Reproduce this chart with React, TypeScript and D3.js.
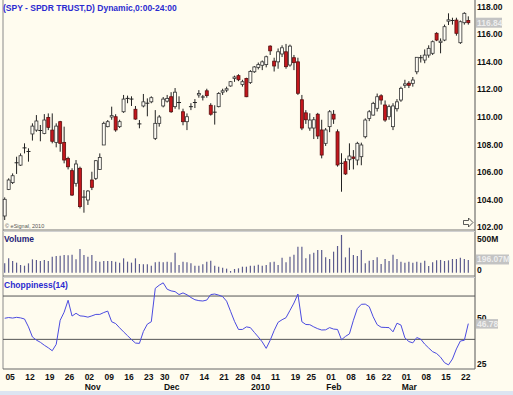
import * as d3 from 'd3';

const W = 513;
const H = 395;

// trading days, Oct 5 2009 .. Mar 24 2010
const tradingDays = [
  '2009-10-05', '2009-10-06', '2009-10-07', '2009-10-08', '2009-10-09',
  '2009-10-12', '2009-10-13', '2009-10-14', '2009-10-15', '2009-10-16',
  '2009-10-19', '2009-10-20', '2009-10-21', '2009-10-22', '2009-10-23',
  '2009-10-26', '2009-10-27', '2009-10-28', '2009-10-29', '2009-10-30',
  '2009-11-02', '2009-11-03', '2009-11-04', '2009-11-05', '2009-11-06',
  '2009-11-09', '2009-11-10', '2009-11-11', '2009-11-12', '2009-11-13',
  '2009-11-16', '2009-11-17', '2009-11-18', '2009-11-19', '2009-11-20',
  '2009-11-23', '2009-11-24', '2009-11-25', '2009-11-27',
  '2009-11-30', '2009-12-01', '2009-12-02', '2009-12-03', '2009-12-04',
  '2009-12-07', '2009-12-08', '2009-12-09', '2009-12-10', '2009-12-11',
  '2009-12-14', '2009-12-15', '2009-12-16', '2009-12-17', '2009-12-18',
  '2009-12-21', '2009-12-22', '2009-12-23', '2009-12-24',
  '2009-12-28', '2009-12-29', '2009-12-30', '2009-12-31',
  '2010-01-04', '2010-01-05', '2010-01-06', '2010-01-07', '2010-01-08',
  '2010-01-11', '2010-01-12', '2010-01-13', '2010-01-14', '2010-01-15',
  '2010-01-19', '2010-01-20', '2010-01-21', '2010-01-22',
  '2010-01-25', '2010-01-26', '2010-01-27', '2010-01-28', '2010-01-29',
  '2010-02-01', '2010-02-02', '2010-02-03', '2010-02-04', '2010-02-05',
  '2010-02-08', '2010-02-09', '2010-02-10', '2010-02-11', '2010-02-12',
  '2010-02-16', '2010-02-17', '2010-02-18', '2010-02-19',
  '2010-02-22', '2010-02-23', '2010-02-24', '2010-02-25', '2010-02-26',
  '2010-03-01', '2010-03-02', '2010-03-03', '2010-03-04', '2010-03-05',
  '2010-03-08', '2010-03-09', '2010-03-10', '2010-03-11', '2010-03-12',
  '2010-03-15', '2010-03-16', '2010-03-17', '2010-03-18', '2010-03-19',
  '2010-03-22', '2010-03-23', '2010-03-24',
];

const open = [
  102.82, 104.75, 105.24, 106.6, 106.51, 107.7, 107.45, 108.77, 109.05, 108.97,
  108.81, 109.97, 109.05, 108.16, 109.66, 108.16, 107.0, 106.11, 105.19, 106.28,
  104.15, 103.98, 105.43, 105.55, 106.2, 107.97, 109.3, 110.0, 110.02, 109.3,
  110.38, 111.3, 111.3, 110.56, 109.5, 110.8, 111.0, 111.1, 108.45, 109.54,
  110.8, 111.15, 111.47, 110.75, 111.05, 110.38, 109.66, 110.7, 111.0, 111.6,
  111.45, 111.9, 110.85, 110.3, 110.75, 111.8, 111.95, 112.25, 112.8, 113.0,
  112.35, 112.8, 112.5, 113.28, 113.6, 113.75, 113.8, 115.14, 114.05, 114.0,
  114.57, 114.73, 113.77, 114.3, 114.0, 111.25, 110.3, 109.2, 109.2, 110.2,
  109.06, 108.09, 109.3, 110.2, 108.93, 106.6, 106.76, 106.9, 107.1, 106.88,
  107.12, 108.57, 109.9, 110.14, 110.63, 111.54, 110.87, 110.02, 109.3, 110.6,
  111.23, 112.3, 112.45, 112.44, 113.28, 114.25, 114.13, 114.49, 114.62, 116.07,
  115.4, 115.58, 116.95, 116.95, 117.03, 115.39, 116.84, 117.0,
];
const high = [
  104.17, 105.55, 105.91, 107.12, 107.36, 108.09, 107.73, 109.54, 110.14, 109.42,
  110.21, 110.26, 110.26, 109.54, 109.72, 109.3, 107.12, 106.28, 106.88, 106.4,
  104.7, 104.7, 106.03, 106.88, 107.36, 109.66, 109.78, 110.75, 110.2, 109.8,
  111.6, 111.55, 111.5, 110.8, 109.78, 111.67, 111.35, 111.5, 110.5, 110.14,
  111.45, 111.6, 111.8, 112.1, 111.5, 110.6, 110.26, 111.0, 111.3, 111.95,
  111.6, 112.05, 111.0, 110.85, 111.8, 112.05, 112.2, 112.6, 113.0, 113.1,
  112.7, 112.85, 113.4, 113.7, 113.95, 114.1, 114.45, 115.2, 114.3, 114.97,
  115.2, 115.3, 115.25, 114.5, 114.3, 111.6, 110.5, 110.27, 110.0, 110.3,
  109.8, 109.2, 110.5, 110.5, 109.1, 107.37, 107.0, 108.09, 107.6, 108.2,
  108.14, 109.9, 110.5, 111.1, 111.7, 111.65, 111.2, 110.9, 111.0, 111.3,
  112.2, 112.7, 112.6, 112.9, 114.33, 114.5, 114.9, 115.2, 115.55, 116.15,
  115.7, 116.7, 117.52, 117.2, 117.2, 117.0, 117.6, 117.3,
];
const low = [
  102.53, 104.7, 105.14, 105.87, 106.45, 107.36, 106.76, 108.29, 108.93, 108.24,
  108.75, 109.05, 108.09, 107.8, 107.48, 106.64, 106.2, 104.27, 104.95, 103.37,
  103.06, 103.62, 104.7, 105.43, 106.16, 107.97, 109.25, 109.8, 108.93, 109.2,
  110.3, 111.0, 110.8, 109.8, 109.18, 110.7, 110.05, 111.0, 108.33, 109.3,
  110.7, 111.05, 110.3, 110.6, 110.55, 109.4, 109.05, 110.5, 110.65, 111.4,
  111.2, 111.4, 110.1, 109.45, 110.7, 111.6, 111.8, 112.2, 112.55, 112.6,
  112.2, 111.44, 112.4, 113.2, 113.45, 113.4, 113.6, 114.5, 113.3, 113.5,
  114.35, 113.5, 113.65, 113.4, 111.6, 109.05, 109.5, 109.0, 108.4, 108.4,
  107.0, 107.9, 108.9, 109.5, 106.4, 104.58, 105.8, 106.16, 106.2, 106.5,
  106.5, 108.45, 109.7, 110.1, 110.4, 110.9, 109.65, 109.8, 109.05, 110.4,
  111.1, 112.1, 112.1, 112.2, 113.1, 113.95, 113.9, 114.3, 114.5, 115.5,
  114.62, 115.5, 116.67, 116.7, 115.9, 115.3, 116.7, 116.7,
];
const close = [
  104.03, 105.43, 105.74, 106.68, 107.19, 107.76, 107.5, 109.34, 109.71, 109.02,
  109.78, 109.25, 108.24, 109.34, 108.09, 106.88, 106.39, 104.34, 106.59, 103.5,
  104.19, 104.63, 104.9, 106.83, 107.07, 109.54, 109.66, 110.1, 109.06, 109.66,
  111.3, 111.35, 111.25, 109.85, 109.45, 111.1, 110.98, 111.4, 109.54, 110.0,
  111.3, 111.35, 110.38, 111.8, 111.0, 109.66, 110.02, 110.75, 111.05, 111.7,
  111.4, 111.55, 110.2, 110.35, 111.71, 111.9, 112.05, 112.56, 112.9, 112.7,
  112.56, 111.47, 113.3, 113.63, 113.8, 114.0, 114.37, 114.8, 113.7, 114.73,
  115.02, 113.65, 115.14, 113.94, 111.72, 109.2, 109.8, 109.78, 109.8, 108.62,
  107.24, 109.06, 110.38, 109.85, 106.52, 106.64, 105.87, 107.17, 107.0, 108.09,
  107.97, 109.78, 110.38, 110.99, 111.47, 111.23, 109.78, 110.75, 110.8, 111.1,
  112.08, 112.4, 112.3, 112.68, 114.33, 114.3, 114.49, 114.98, 115.46, 115.58,
  115.5, 116.55, 117.05, 117.0, 116.07, 116.91, 117.52, 116.84,
];

// volume in millions of shares
const volume = [
  139, 213, 174, 149, 114, 104, 139, 198, 188, 174,
  188, 174, 238, 248, 253, 263, 258, 268, 198, 352,
  263, 238, 263, 174, 164, 174, 174, 174, 164, 149,
  213, 164, 149, 213, 129, 124, 124, 104, 154, 164,
  154, 164, 154, 297, 114, 164, 154, 139, 104, 104,
  124, 164, 179, 104, 89, 75, 60, 25, 55, 65,
  89, 89, 104, 104, 119, 104, 114, 154, 164, 114,
  223, 154, 238, 268, 386, 386, 213, 273, 297, 337,
  337, 228, 203, 312, 396, 560, 228, 371, 263, 248,
  337, 139, 179, 188, 228, 129, 203, 174, 268, 203,
  164, 149, 164, 149, 164, 149, 179, 99, 154, 183,
  189, 174, 183, 203, 203, 223, 203, 189,
];

// Choppiness(14)
const chop = [
  49.7, 50.1, 49.8, 50.2, 49.9, 49.3, 45.0, 39.5, 37.8, 36.6,
  35.0, 33.6, 32.0, 35.5, 48.6, 53.0, 59.5, 50.9, 52.4, 51.0,
  50.8, 50.3, 51.0, 51.8, 51.8, 52.8, 53.6, 47.8, 46.8, 44.5,
  42.3, 40.2, 38.1, 36.2, 36.0, 42.5, 46.5, 47.8, 66.0, 67.7,
  69.0, 65.5, 64.6, 64.2, 62.6, 63.5, 62.5, 61.0, 59.8, 59.3,
  59.1, 59.6, 62.6, 62.9, 62.3, 61.5, 59.0, 53.5, 48.0, 43.6,
  43.6, 45.0, 44.6, 42.0, 39.5, 36.8, 33.3, 37.7, 43.0, 47.5,
  48.9, 50.0, 54.0, 58.0, 62.9, 47.8, 46.3, 46.2, 45.0, 44.0,
  43.3, 43.4, 44.6, 43.8, 43.6, 38.0, 39.8, 41.2, 48.6, 55.0,
  57.3, 57.4, 56.0, 50.5, 46.2, 44.8, 44.7, 44.6, 42.3, 47.0,
  46.0, 39.0, 37.0, 36.3, 39.2, 38.3, 35.6, 33.5, 31.5, 30.5,
  28.5, 25.5, 24.3, 27.5, 33.0, 37.3, 37.7, 46.78,
];

const priceTicks = [102, 104, 106, 108, 110, 112, 114, 116, 118];
const chopLevels = [38.2, 61.8];
const chopTicks = [25, 50];
const volTicks = [0, 500];
const lastPrice = 116.84;
const lastVolume = 196.07;

const FONT = "'Liberation Sans', Arial, sans-serif";
const BG = '#fffcef';
const LEFT = 3;
const RIGHT = 475;

export default function App() {
  const parse = d3.timeParse('%Y-%m-%d');
  const days = tradingDays.map((d) => parse(d) as Date);

  const x = d3.scaleLinear().domain([0, days.length - 1]).range([4.7, 468.3]);
  const yPrice = d3.scaleLinear().domain([102, 118]).range([227.3, 6.7]);
  const yVol = d3.scaleLinear().domain([0, 500]).range([272.7, 239]);
  const yChop = d3.scaleLinear().domain([25, 50]).range([363.6, 317.7]);

  const weekIdx = days
    .map((d, i) => i)
    .filter((i) => i === 0 || +d3.timeMonday.floor(days[i]) !== +d3.timeMonday.floor(days[i - 1]));
  const monthIdx = days
    .map((d, i) => i)
    .filter((i) => i > 0 && days[i].getMonth() !== days[i - 1].getMonth());

  const chopLine = d3
    .line<number>()
    .x((d, i) => x(i))
    .y((d) => yChop(d));

  const fmt2 = d3.format('.2f');

  return (
    <svg
      width={W}
      height={H}
      style={{ position: 'absolute', left: 0, top: 0, background: BG }}
      fontFamily={FONT}
    >
      <rect x={0} y={0} width={W} height={H} fill={BG} />
      <rect x={0} y={391} width={W} height={4} fill="#dce5f2" />

      {/* panel frames */}
      <line x1={LEFT} x2={LEFT} y1={0} y2={369} stroke="#8a8a8a" />
      <line x1={RIGHT} x2={RIGHT} y1={0} y2={369} stroke="#555" />
      <line x1={LEFT} x2={RIGHT} y1={230} y2={230} stroke="#777" />
      <line x1={LEFT} x2={RIGHT} y1={231.5} y2={231.5} stroke="#d0d0d0" />
      <line x1={LEFT} x2={RIGHT} y1={276} y2={276} stroke="#777" />
      <line x1={LEFT} x2={RIGHT} y1={277.5} y2={277.5} stroke="#d0d0d0" />
      <line x1={LEFT} x2={RIGHT} y1={369} y2={369} stroke="#666" />

      {/* price panel */}
      <text x={3} y={8} fontSize={8.5} fontWeight="bold" fill="#2b2bd0" dominantBaseline="central">
        (SPY - SPDR TRUST,D) Dynamic,0:00-24:00
      </text>
      <text x={5} y={226} fontSize={5.5} fill="#555" dominantBaseline="central">
        © eSignal, 2010
      </text>
      {days.map((d, i) => {
        const o = open[i];
        const c = close[i];
        const top = yPrice(Math.max(o, c));
        const bot = yPrice(Math.min(o, c));
        const down = c < o;
        const cx = x(i);
        return (
          <g key={i}>
            <line x1={cx} x2={cx} y1={yPrice(high[i])} y2={yPrice(low[i])} stroke="#222" strokeWidth={1} />
            {bot - top < 1.2 ? (
              <line x1={cx - 2} x2={cx + 2} y1={top} y2={top} stroke="#222" strokeWidth={1} />
            ) : (
              <rect
                x={cx - 1.5}
                y={top}
                width={3}
                height={bot - top}
                fill={down ? '#c4161c' : '#fffdf5'}
                stroke={down ? '#5a1010' : '#333'}
                strokeWidth={0.8}
              />
            )}
          </g>
        );
      })}
      {priceTicks.map((t) => (
        <text key={t} x={477} y={yPrice(t)} fontSize={8.5} fontWeight="bold" fill="#111" dominantBaseline="central">
          {fmt2(t)}
        </text>
      ))}
      <rect x={476} y={yPrice(lastPrice) - 5} width={26} height={10} fill="#c3c3c3" />
      <text x={477} y={yPrice(lastPrice)} fontSize={8.5} fontWeight="bold" fill="#ededed" dominantBaseline="central">
        {fmt2(lastPrice)}
      </text>
      <path d="M463.5,220.5 h5 v-2.5 l4.5,4.5 l-4.5,4.5 v-2.5 h-5 z" fill="none" stroke="#333" strokeWidth={0.8} />

      {/* volume panel */}
      <text x={4} y={239} fontSize={8.5} fontWeight="bold" fill="#1e1e78" dominantBaseline="central">
        Volume
      </text>
      {volume.map((v, i) => (
        <line key={i} x1={x(i)} x2={x(i)} y1={yVol(0)} y2={yVol(v)} stroke="#5c5c8e" strokeWidth={1.2} />
      ))}
      <text x={477} y={yVol(volTicks[1])} fontSize={8.5} fontWeight="bold" fill="#111" dominantBaseline="central">
        500M
      </text>
      <text x={477} y={yVol(volTicks[0]) - 2.5} fontSize={8.5} fontWeight="bold" fill="#111" dominantBaseline="central">
        0
      </text>
      <rect x={476} y={yVol(lastVolume) - 5} width={33} height={10} fill="#c3c3c3" />
      <text x={477} y={yVol(lastVolume)} fontSize={8.5} fontWeight="bold" fill="#ededed" dominantBaseline="central">
        {fmt2(lastVolume)}M
      </text>

      {/* choppiness panel */}
      <text x={4} y={285} fontSize={8.5} fontWeight="bold" fill="#2b2bd0" dominantBaseline="central">
        Choppiness(14)
      </text>
      {chopLevels.map((l) => (
        <line key={l} x1={LEFT} x2={RIGHT} y1={yChop(l)} y2={yChop(l)} stroke="#555" strokeWidth={1} />
      ))}
      <path d={chopLine(chop) || ''} fill="none" stroke="#4b4be0" strokeWidth={1} />
      {chopTicks.map((t) => (
        <text key={t} x={477} y={yChop(t)} fontSize={8.5} fontWeight="bold" fill="#111" dominantBaseline="central">
          {t}
        </text>
      ))}
      <rect x={476} y={yChop(chop[chop.length - 1]) - 4.5} width={22} height={9.5} fill="#c3c3c3" />
      <text
        x={477}
        y={yChop(chop[chop.length - 1])}
        fontSize={8.5}
        fontWeight="bold"
        fill="#ededed"
        dominantBaseline="central"
      >
        {chop[chop.length - 1].toFixed(2)}
      </text>

      {/* date axis */}
      {weekIdx.map((i) => (
        <text key={i} x={x(i) + 0.7} y={377} fontSize={8.5} fontWeight="bold" fill="#111" dominantBaseline="central">
          {d3.timeFormat('%d')(days[i])}
        </text>
      ))}
      {monthIdx.map((i) => (
        <text key={i} x={x(i) + 0.7} y={387} fontSize={8.5} fontWeight="bold" fill="#111" dominantBaseline="central">
          {days[i].getMonth() === 0 ? d3.timeFormat('%Y')(days[i]) : d3.timeFormat('%b')(days[i])}
        </text>
      ))}
    </svg>
  );
}
